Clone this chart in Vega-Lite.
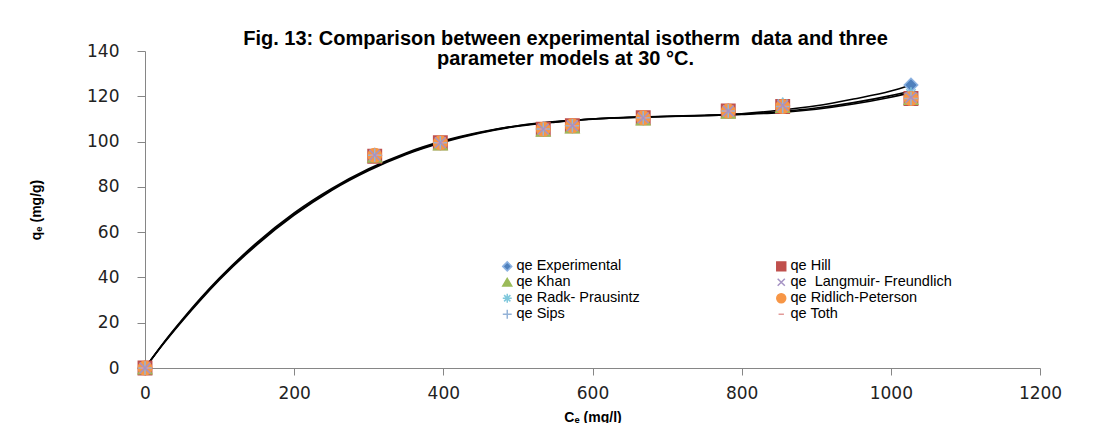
{
  "$schema": "https://vega.github.io/schema/vega-lite/v6.json",
  "width": 895,
  "height": 317,
  "autosize": "none",
  "padding": {"left": 145, "top": 51, "right": 67, "bottom": 55},
  "background": "white",
  "title": {
    "text": ["Fig. 13: Comparison between experimental isotherm \u00a0data and three", "parameter models at 30 °C."],
    "font": "Liberation Sans",
    "fontSize": 20,
    "fontWeight": "bold",
    "color": "black",
    "anchor": "middle",
    "dx": -27,
    "dy": 31,
    "lineHeight": 20
  },
  "config": {
    "view": {"stroke": null},
    "axis": {
      "domainColor": "#868686",
      "tickColor": "#868686",
      "grid": false,
      "labelFont": "DejaVu Sans",
      "labelFontSize": 17,
      "labelColor": "#222222",
      "titleFont": "Liberation Sans",
      "titleFontSize": 14,
      "titleFontWeight": "bold",
      "titleColor": "black"
    }
  },
  "datasets": {
    "pts": [
      {"series": "qe Experimental", "Ce": 0, "qe": 0},
      {"series": "qe Experimental", "Ce": 308, "qe": 94},
      {"series": "qe Experimental", "Ce": 396, "qe": 99.5},
      {"series": "qe Experimental", "Ce": 534, "qe": 105.5},
      {"series": "qe Experimental", "Ce": 573, "qe": 107},
      {"series": "qe Experimental", "Ce": 668, "qe": 110.5},
      {"series": "qe Experimental", "Ce": 782, "qe": 113.5},
      {"series": "qe Experimental", "Ce": 855, "qe": 116},
      {"series": "qe Experimental", "Ce": 1027, "qe": 125},
      {"series": "qe Hill", "Ce": 0, "qe": 0},
      {"series": "qe Hill", "Ce": 308, "qe": 93.5},
      {"series": "qe Hill", "Ce": 396, "qe": 99.5},
      {"series": "qe Hill", "Ce": 534, "qe": 105.5},
      {"series": "qe Hill", "Ce": 573, "qe": 107},
      {"series": "qe Hill", "Ce": 668, "qe": 110.5},
      {"series": "qe Hill", "Ce": 782, "qe": 113.5},
      {"series": "qe Hill", "Ce": 855, "qe": 115.5},
      {"series": "qe Hill", "Ce": 1027, "qe": 119},
      {"series": "qe Khan", "Ce": 0, "qe": 0},
      {"series": "qe Khan", "Ce": 308, "qe": 93.5},
      {"series": "qe Khan", "Ce": 396, "qe": 99},
      {"series": "qe Khan", "Ce": 534, "qe": 105},
      {"series": "qe Khan", "Ce": 573, "qe": 106.5},
      {"series": "qe Khan", "Ce": 668, "qe": 110},
      {"series": "qe Khan", "Ce": 782, "qe": 113},
      {"series": "qe Khan", "Ce": 855, "qe": 115.5},
      {"series": "qe Khan", "Ce": 1027, "qe": 119},
      {"series": "qe \u00a0Langmuir- Freundlich", "Ce": 0, "qe": 0},
      {"series": "qe \u00a0Langmuir- Freundlich", "Ce": 308, "qe": 94},
      {"series": "qe \u00a0Langmuir- Freundlich", "Ce": 396, "qe": 99.5},
      {"series": "qe \u00a0Langmuir- Freundlich", "Ce": 534, "qe": 105.5},
      {"series": "qe \u00a0Langmuir- Freundlich", "Ce": 573, "qe": 107},
      {"series": "qe \u00a0Langmuir- Freundlich", "Ce": 668, "qe": 110.5},
      {"series": "qe \u00a0Langmuir- Freundlich", "Ce": 782, "qe": 113.5},
      {"series": "qe \u00a0Langmuir- Freundlich", "Ce": 855, "qe": 116},
      {"series": "qe \u00a0Langmuir- Freundlich", "Ce": 1027, "qe": 119.5},
      {"series": "qe Radk- Prausintz", "Ce": 0, "qe": 0},
      {"series": "qe Radk- Prausintz", "Ce": 308, "qe": 94},
      {"series": "qe Radk- Prausintz", "Ce": 396, "qe": 99.5},
      {"series": "qe Radk- Prausintz", "Ce": 534, "qe": 105.5},
      {"series": "qe Radk- Prausintz", "Ce": 573, "qe": 107},
      {"series": "qe Radk- Prausintz", "Ce": 668, "qe": 110.5},
      {"series": "qe Radk- Prausintz", "Ce": 782, "qe": 113.5},
      {"series": "qe Radk- Prausintz", "Ce": 855, "qe": 116.5},
      {"series": "qe Radk- Prausintz", "Ce": 1027, "qe": 121},
      {"series": "qe Ridlich-Peterson", "Ce": 0, "qe": 0},
      {"series": "qe Ridlich-Peterson", "Ce": 308, "qe": 94},
      {"series": "qe Ridlich-Peterson", "Ce": 396, "qe": 99.5},
      {"series": "qe Ridlich-Peterson", "Ce": 534, "qe": 105.5},
      {"series": "qe Ridlich-Peterson", "Ce": 573, "qe": 107},
      {"series": "qe Ridlich-Peterson", "Ce": 668, "qe": 110.5},
      {"series": "qe Ridlich-Peterson", "Ce": 782, "qe": 113.5},
      {"series": "qe Ridlich-Peterson", "Ce": 855, "qe": 115.5},
      {"series": "qe Ridlich-Peterson", "Ce": 1027, "qe": 119},
      {"series": "qe Sips", "Ce": 0, "qe": 0},
      {"series": "qe Sips", "Ce": 308, "qe": 94},
      {"series": "qe Sips", "Ce": 396, "qe": 99.5},
      {"series": "qe Sips", "Ce": 534, "qe": 105.5},
      {"series": "qe Sips", "Ce": 573, "qe": 107},
      {"series": "qe Sips", "Ce": 668, "qe": 110.5},
      {"series": "qe Sips", "Ce": 782, "qe": 113.5},
      {"series": "qe Sips", "Ce": 855, "qe": 115.5},
      {"series": "qe Sips", "Ce": 1027, "qe": 119},
      {"series": "qe Toth", "Ce": 0, "qe": 0},
      {"series": "qe Toth", "Ce": 308, "qe": 94},
      {"series": "qe Toth", "Ce": 396, "qe": 99.5},
      {"series": "qe Toth", "Ce": 534, "qe": 105.5},
      {"series": "qe Toth", "Ce": 573, "qe": 107},
      {"series": "qe Toth", "Ce": 668, "qe": 110.5},
      {"series": "qe Toth", "Ce": 782, "qe": 113.5},
      {"series": "qe Toth", "Ce": 855, "qe": 115.5},
      {"series": "qe Toth", "Ce": 1027, "qe": 119}
    ],
    "curves": [
      {"curve": "A", "Ce": 0, "qe": 0},
      {"curve": "A", "Ce": 25, "qe": 11},
      {"curve": "A", "Ce": 50, "qe": 21.1},
      {"curve": "A", "Ce": 75, "qe": 30.6},
      {"curve": "A", "Ce": 100, "qe": 39.4},
      {"curve": "A", "Ce": 150, "qe": 54.9},
      {"curve": "A", "Ce": 200, "qe": 68},
      {"curve": "A", "Ce": 250, "qe": 78.8},
      {"curve": "A", "Ce": 300, "qe": 87.6},
      {"curve": "A", "Ce": 350, "qe": 94.6},
      {"curve": "A", "Ce": 400, "qe": 100},
      {"curve": "A", "Ce": 450, "qe": 104},
      {"curve": "A", "Ce": 500, "qe": 107},
      {"curve": "A", "Ce": 550, "qe": 108.7},
      {"curve": "A", "Ce": 600, "qe": 110},
      {"curve": "A", "Ce": 650, "qe": 110.7},
      {"curve": "A", "Ce": 700, "qe": 111.2},
      {"curve": "A", "Ce": 750, "qe": 111.6},
      {"curve": "A", "Ce": 800, "qe": 112.3},
      {"curve": "A", "Ce": 850, "qe": 113.8},
      {"curve": "A", "Ce": 900, "qe": 115.8},
      {"curve": "A", "Ce": 950, "qe": 118.8},
      {"curve": "A", "Ce": 1000, "qe": 122.3},
      {"curve": "A", "Ce": 1027, "qe": 125},
      {"curve": "B", "Ce": 0, "qe": 0},
      {"curve": "B", "Ce": 25, "qe": 11.2},
      {"curve": "B", "Ce": 50, "qe": 21.4},
      {"curve": "B", "Ce": 75, "qe": 31},
      {"curve": "B", "Ce": 100, "qe": 39.8},
      {"curve": "B", "Ce": 150, "qe": 55.4},
      {"curve": "B", "Ce": 200, "qe": 68.5},
      {"curve": "B", "Ce": 250, "qe": 79.2},
      {"curve": "B", "Ce": 300, "qe": 88},
      {"curve": "B", "Ce": 350, "qe": 95},
      {"curve": "B", "Ce": 400, "qe": 100.3},
      {"curve": "B", "Ce": 450, "qe": 104.2},
      {"curve": "B", "Ce": 500, "qe": 107},
      {"curve": "B", "Ce": 550, "qe": 108.8},
      {"curve": "B", "Ce": 600, "qe": 110},
      {"curve": "B", "Ce": 650, "qe": 110.7},
      {"curve": "B", "Ce": 700, "qe": 111.1},
      {"curve": "B", "Ce": 750, "qe": 111.4},
      {"curve": "B", "Ce": 800, "qe": 112},
      {"curve": "B", "Ce": 850, "qe": 112.8},
      {"curve": "B", "Ce": 900, "qe": 114.3},
      {"curve": "B", "Ce": 950, "qe": 116.6},
      {"curve": "B", "Ce": 1000, "qe": 119.6},
      {"curve": "B", "Ce": 1027, "qe": 121.5},
      {"curve": "C", "Ce": 0, "qe": 0},
      {"curve": "C", "Ce": 25, "qe": 10.8},
      {"curve": "C", "Ce": 50, "qe": 20.8},
      {"curve": "C", "Ce": 75, "qe": 30.2},
      {"curve": "C", "Ce": 100, "qe": 39},
      {"curve": "C", "Ce": 150, "qe": 54.4},
      {"curve": "C", "Ce": 200, "qe": 67.5},
      {"curve": "C", "Ce": 250, "qe": 78.4},
      {"curve": "C", "Ce": 300, "qe": 87.2},
      {"curve": "C", "Ce": 350, "qe": 94.3},
      {"curve": "C", "Ce": 400, "qe": 99.7},
      {"curve": "C", "Ce": 450, "qe": 103.8},
      {"curve": "C", "Ce": 500, "qe": 106.8},
      {"curve": "C", "Ce": 550, "qe": 108.6},
      {"curve": "C", "Ce": 600, "qe": 109.9},
      {"curve": "C", "Ce": 650, "qe": 110.6},
      {"curve": "C", "Ce": 700, "qe": 111.1},
      {"curve": "C", "Ce": 750, "qe": 111.5},
      {"curve": "C", "Ce": 800, "qe": 112.1},
      {"curve": "C", "Ce": 850, "qe": 113.2},
      {"curve": "C", "Ce": 900, "qe": 114.8},
      {"curve": "C", "Ce": 950, "qe": 117.2},
      {"curve": "C", "Ce": 1000, "qe": 120.3},
      {"curve": "C", "Ce": 1027, "qe": 122.3}
    ]
  },
  "layer": [
    {
      "data": {"name": "curves"},
      "mark": {"type": "line", "interpolate": "monotone", "color": "black", "strokeWidth": 1.6},
      "encoding": {
        "x": {"field": "Ce", "type": "quantitative"},
        "y": {"field": "qe", "type": "quantitative"},
        "detail": {"field": "curve"}
      }
    },
    {
      "data": {"name": "pts"},
      "mark": {"type": "point", "filled": true, "size": 180, "strokeWidth": 1.5, "opacity": 1},
      "encoding": {
        "x": {
          "field": "Ce", "type": "quantitative",
          "scale": {"domain": [0, 1200], "nice": false, "zero": false},
          "axis": {"values": [0, 200, 400, 600, 800, 1000, 1200], "format": "d", "labelFlush": false, "tickSize": 7, "labelPadding": 10, "title": "Cₑ (mg/l)", "titlePadding": 9}
        },
        "y": {
          "field": "qe", "type": "quantitative",
          "scale": {"domain": [0, 140], "nice": false},
          "axis": {"values": [0, 20, 40, 60, 80, 100, 120, 140], "labelFlush": false, "tickSize": 8, "labelPadding": 18, "title": "qₑ (mg/g)", "titlePadding": 43}
        },
        "fill": {
          "field": "series", "type": "nominal",
          "scale": {
            "domain": ["qe Experimental", "qe Hill", "qe Khan", "qe \u00a0Langmuir- Freundlich", "qe Radk- Prausintz", "qe Ridlich-Peterson", "qe Sips", "qe Toth"],
            "range": ["#4F81BD", "#C0504D", "#9BBB59", "transparent", "transparent", "#F79646", "transparent", "transparent"]
          },
          "legend": {
            "orient": "none", "legendX": 355, "legendY": 208, "columns": 2, "direction": "horizontal", "columnPadding": 133,
            "rowPadding": 0, "title": null, "labelFont": "Liberation Sans", "labelFontSize": 14.5,
            "labelColor": "black", "symbolSize": 80, "symbolStrokeWidth": 1.5, "labelLimit": 400, "labelOffset": 2
          }
        },
        "stroke": {
          "field": "series", "type": "nominal",
          "scale": {
            "domain": ["qe Experimental", "qe Hill", "qe Khan", "qe \u00a0Langmuir- Freundlich", "qe Radk- Prausintz", "qe Ridlich-Peterson", "qe Sips", "qe Toth"],
            "range": ["#8DB3E2", "#C0504D", "#9BBB59", "#A593C4", "#7FC8DC", "#F79646", "#95B3D7", "#E29A98"]
          },
          "legend": {
            "orient": "none", "legendX": 355, "legendY": 208, "columns": 2, "direction": "horizontal", "columnPadding": 133,
            "rowPadding": 0, "title": null, "labelFont": "Liberation Sans", "labelFontSize": 14.5,
            "labelColor": "black", "symbolSize": 80, "symbolStrokeWidth": 1.5, "labelLimit": 400, "labelOffset": 2
          }
        },
        "shape": {
          "field": "series", "type": "nominal",
          "scale": {
            "domain": ["qe Experimental", "qe Hill", "qe Khan", "qe \u00a0Langmuir- Freundlich", "qe Radk- Prausintz", "qe Ridlich-Peterson", "qe Sips", "qe Toth"],
            "range": ["diamond", "square", "triangle-up", "M-0.8,-0.8L0.8,0.8M-0.8,0.8L0.8,-0.8", "M-1,0L1,0M0,-1L0,1M-0.7,-0.7L0.7,0.7M-0.7,0.7L0.7,-0.7", "circle", "M-1,0L1,0M0,-1L0,1", "M-0.6,0L0.6,0"]
          },
          "legend": {
            "orient": "none", "legendX": 355, "legendY": 208, "columns": 2, "direction": "horizontal", "columnPadding": 133,
            "rowPadding": 0, "title": null, "labelFont": "Liberation Sans", "labelFontSize": 14.5,
            "labelColor": "black", "symbolSize": 80, "symbolStrokeWidth": 1.5, "labelLimit": 400, "labelOffset": 2
          }
        },
        "order": {"field": "series", "sort": "ascending"}
      }
    }
  ]
}
